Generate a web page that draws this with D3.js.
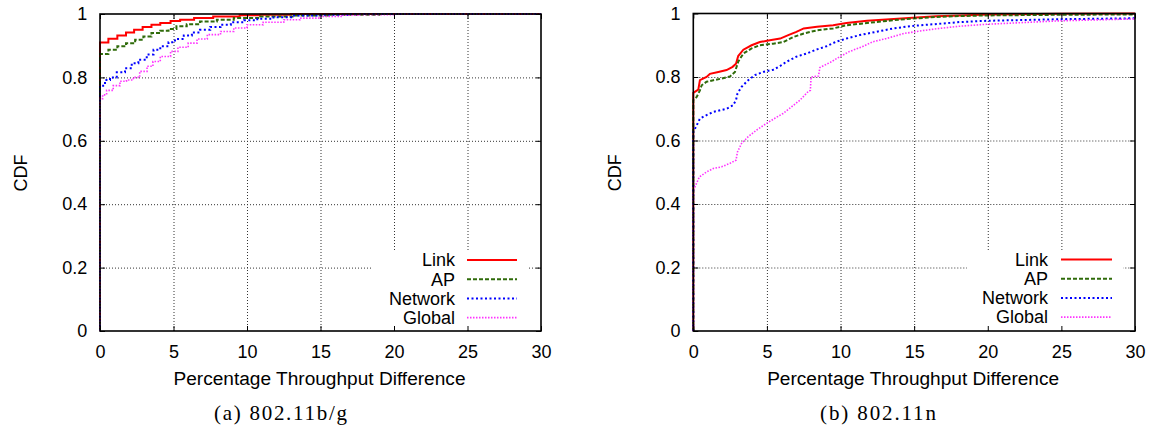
<!DOCTYPE html>
<html>
<head>
<meta charset="utf-8">
<script src="https://cdn.jsdelivr.net/npm/d3@7"></script>
<style>
  html, body { margin: 0; padding: 0; background: #fff; }
  svg { display: block; font-family: "Liberation Sans", Arial, Helvetica, sans-serif; }
</style>
</head>
<body>
<svg id="chart" width="1151" height="428"></svg>
<script>
// ---- Data -------------------------------------------------------------
const xTicks = [0, 5, 10, 15, 20, 25, 30];
const yTicks = [0, 0.2, 0.4, 0.6, 0.8, 1];
const seriesNames = ["Link", "AP", "Network", "Global"];
const captions = ["(a) 802.11b/g", "(b) 802.11n"];
const xTitle = "Percentage Throughput Difference";
const yTitle = "CDF";

// (a) 802.11b/g : [throughput difference %, CDF]
const linkBG = [[0,0],[0,0.910],[0.57,0.922],[1.18,0.932],[1.77,0.942],[2.32,0.950],[2.9,0.959],[3.5,0.966],[4.1,0.972],[4.8,0.978],[5.45,0.982],[6.4,0.987],[7.7,0.992],[9.5,0.996],[10.9,0.998],[13,1.0],[30,1.0]];
const apBG = [[0,0],[0,0.874],[0.57,0.887],[1.18,0.898],[1.77,0.908],[2.39,0.919],[2.95,0.929],[3.5,0.940],[4.1,0.947],[4.66,0.953],[5.2,0.961],[5.9,0.968],[6.8,0.976],[7.95,0.982],[9.1,0.987],[10.9,0.992],[13.2,0.995],[15.5,0.998],[19,1.0],[30,1.0]];
const netBG = [[0,0],[0,0.774],[0.34,0.792],[0.68,0.800],[1.14,0.816],[1.7,0.829],[2.16,0.845],[2.61,0.856],[3.18,0.872],[3.64,0.887],[4.1,0.898],[4.66,0.911],[5.1,0.921],[5.7,0.932],[6.25,0.942],[6.8,0.950],[7.5,0.959],[8.2,0.966],[8.9,0.974],[9.8,0.980],[10.7,0.985],[11.8,0.990],[13.2,0.995],[15,0.998],[17,1.0],[30,1.0]];
const globBG = [[0,0],[0,0.733],[0.18,0.745],[0.45,0.759],[0.9,0.774],[1.36,0.788],[1.8,0.792],[2.27,0.800],[2.7,0.819],[3.2,0.835],[3.6,0.850],[4.1,0.866],[4.8,0.882],[5.3,0.895],[6.0,0.908],[6.6,0.921],[7.3,0.935],[8.2,0.945],[9.1,0.956],[10,0.966],[11.1,0.974],[12.5,0.982],[13.6,0.987],[15,0.992],[16.4,0.996],[17.7,0.998],[20,1.0],[30,1.0]];

// (b) 802.11n : [throughput difference %, CDF]
const linkN = [[0,0],[0,0.750],[0.34,0.760],[0.45,0.790],[0.9,0.800],[1.13,0.810],[1.7,0.816],[2.26,0.822],[2.67,0.832],[2.9,0.842],[3.05,0.866],[3.4,0.886],[3.96,0.900],[4.52,0.910],[5.2,0.916],[5.9,0.921],[6.45,0.932],[7.0,0.942],[7.5,0.953],[8.4,0.958],[9.5,0.963],[10.4,0.970],[11.8,0.977],[13.1,0.981],[14.9,0.987],[16.5,0.991],[18.1,0.994],[20,0.997],[25,0.999],[30,1.0]];
const apN = [[0,0],[0,0.727],[0.23,0.737],[0.45,0.758],[0.57,0.774],[0.9,0.785],[1.36,0.790],[1.92,0.795],[2.5,0.802],[2.83,0.816],[3.05,0.848],[3.4,0.874],[3.96,0.890],[4.52,0.900],[5.43,0.905],[6.1,0.910],[6.8,0.926],[7.5,0.937],[8.4,0.947],[9.5,0.953],[10.4,0.963],[11.8,0.970],[13.6,0.979],[14.9,0.984],[16.5,0.989],[18.1,0.992],[20,0.994],[25,0.996],[30,0.997]];
const netN = [[0,0],[0,0.627],[0.18,0.643],[0.45,0.669],[0.9,0.680],[1.36,0.690],[2.26,0.700],[2.7,0.711],[2.9,0.727],[3.0,0.748],[3.28,0.769],[3.73,0.790],[4.19,0.806],[4.75,0.816],[5.43,0.823],[5.88,0.834],[6.33,0.848],[7.0,0.864],[7.7,0.874],[8.4,0.887],[9.05,0.897],[9.7,0.911],[10.4,0.921],[11.3,0.932],[12.4,0.942],[13.6,0.953],[14.9,0.961],[16.3,0.966],[18.1,0.973],[19.9,0.977],[24.9,0.982],[30,0.985]];
const globN = [[0,0],[0,0.444],[0.11,0.454],[0.41,0.485],[0.9,0.501],[1.36,0.512],[1.92,0.517],[2.49,0.528],[2.9,0.538],[3.0,0.564],[3.28,0.591],[3.73,0.612],[4.3,0.633],[4.98,0.654],[5.54,0.670],[6.1,0.685],[6.67,0.706],[7.24,0.727],[7.8,0.754],[7.95,0.758],[8.0,0.800],[8.5,0.803],[8.6,0.830],[9.3,0.846],[9.95,0.864],[10.6,0.880],[11.5,0.896],[12.2,0.911],[13.1,0.921],[14.3,0.937],[15.4,0.945],[16.7,0.953],[18.1,0.960],[19.9,0.966],[24.9,0.977],[30,0.983]];

// ---- Styling ----------------------------------------------------------
const lineStyle = {
  Link:    { color: "#ff0000", width: 2,   dash: null },
  AP:      { color: "#2f6b0a", width: 2,   dash: "4,2" },
  Network: { color: "#0000ff", width: 2,   dash: "2,2.5" },
  Global:  { color: "#ff33ff", width: 1.6, dash: "1.5,1.5" }
};

const panels = [
  { left: 100, right: 541, top: 14, bottom: 331,
    series: [linkBG, apBG, netBG, globBG], curve: d3.curveStepAfter,
    caption: captions[0], captionX: 214, captionLen: 133,
    cdfX: 27, legend: { textRight: 455, s0: 467, s1: 517, box0: 373, box1: 528 } },
  { left: 693.3, right: 1135, top: 13.5, bottom: 331,
    series: [linkN, apN, netN, globN], curve: d3.curveLinear,
    caption: captions[1], captionX: 820, captionLen: 116,
    cdfX: 621, legend: { textRight: 1048, s0: 1061, s1: 1112, box0: 967, box1: 1123 } }
];

const svg = d3.select("#chart");

function styleStroke(sel, name) {
  const s = lineStyle[name];
  sel.attr("fill", "none")
     .attr("stroke", s.color)
     .attr("stroke-width", s.width)
     .attr("stroke-dasharray", s.dash)
     .attr("stroke-linecap", "butt")
     .attr("stroke-linejoin", "miter");
}

panels.forEach(p => {
  const g = svg.append("g");
  const x = d3.scaleLinear().domain([0, 30]).range([p.left, p.right]);
  const y = d3.scaleLinear().domain([0, 1]).range([p.bottom, p.top]);
  const h = p.bottom - p.top, w = p.right - p.left;

  // dotted grid
  const gx = g.append("g").attr("transform", `translate(0,${p.bottom})`)
    .call(d3.axisBottom(x).tickValues(xTicks.slice(1, -1)).tickSize(-h).tickFormat(""));
  const gy = g.append("g").attr("transform", `translate(${p.left},0)`)
    .call(d3.axisLeft(y).tickValues(yTicks.slice(1, -1)).tickSize(-w).tickFormat(""));
  [gx, gy].forEach(a => {
    a.select(".domain").remove();
    a.selectAll("line").attr("stroke", "#333").attr("stroke-width", 1).attr("stroke-dasharray", "1,2");
  });

  // opaque key background
  const L = p.legend;
  g.append("rect")
    .attr("x", L.box0).attr("y", p.top + 236.5)
    .attr("width", L.box1 - L.box0).attr("height", p.bottom - (p.top + 236.5) - 1)
    .attr("fill", "#fff");

  // CDF curves
  const line = d3.line().x(d => x(d[0])).y(d => y(d[1])).curve(p.curve);
  p.series.forEach((data, i) => {
    g.append("path").datum(data).attr("d", line).call(styleStroke, seriesNames[i]);
  });

  // frame
  g.append("rect").attr("x", p.left).attr("y", p.top).attr("width", w).attr("height", h)
    .attr("fill", "none").attr("stroke", "#000").attr("stroke-width", 1.6);

  // inward ticks on all four sides
  const fmt = d => String(d);
  const ax = [
    g.append("g").attr("transform", `translate(0,${p.bottom})`)
      .call(d3.axisBottom(x).tickValues(xTicks).tickSizeInner(-5).tickSizeOuter(0).tickPadding(14).tickFormat(fmt)),
    g.append("g").attr("transform", `translate(${p.left},0)`)
      .call(d3.axisLeft(y).tickValues(yTicks).tickSizeInner(-5).tickSizeOuter(0).tickPadding(12.7).tickFormat(fmt)),
    g.append("g").attr("transform", `translate(0,${p.top})`)
      .call(d3.axisTop(x).tickValues(xTicks).tickSizeInner(-5).tickSizeOuter(0).tickFormat("")),
    g.append("g").attr("transform", `translate(${p.right},0)`)
      .call(d3.axisRight(y).tickValues(yTicks).tickSizeInner(-5).tickSizeOuter(0).tickFormat(""))
  ];
  ax.forEach(a => {
    a.select(".domain").remove();
    a.attr("font-size", null).attr("font-family", null);
    a.selectAll("line").attr("stroke", "#000").attr("stroke-width", 1);
    a.selectAll("text").attr("fill", "#000").style("font-size", "18px");
  });

  // axis titles
  g.append("text")
    .attr("x", (p.left + p.right) / 2 - 1).attr("y", 384.5)
    .attr("text-anchor", "middle").style("font-size", "18px")
    .attr("textLength", 292).attr("lengthAdjust", "spacingAndGlyphs")
    .text(xTitle);
  g.append("text")
    .attr("transform", `translate(${p.cdfX},${(p.top + p.bottom) / 2 + 0.5}) rotate(-90)`)
    .attr("text-anchor", "middle").style("font-size", "18px")
    .text(yTitle);

  // key
  seriesNames.forEach((name, i) => {
    const ry = p.top + 246 + i * 19.2;
    g.append("text").attr("x", L.textRight).attr("y", ry + 6.3)
      .attr("text-anchor", "end").style("font-size", "18px").text(name);
    g.append("line").attr("x1", L.s0).attr("x2", L.s1).attr("y1", ry).attr("y2", ry)
      .call(styleStroke, name);
  });

  // sub-figure caption
  g.append("text")
    .attr("x", p.captionX).attr("y", 420)
    .attr("textLength", p.captionLen).attr("lengthAdjust", "spacing")
    .style("font-family", '"Liberation Serif", "Times New Roman", serif')
    .style("font-size", "21px")
    .text(p.caption);
});
</script>
</body>
</html>
